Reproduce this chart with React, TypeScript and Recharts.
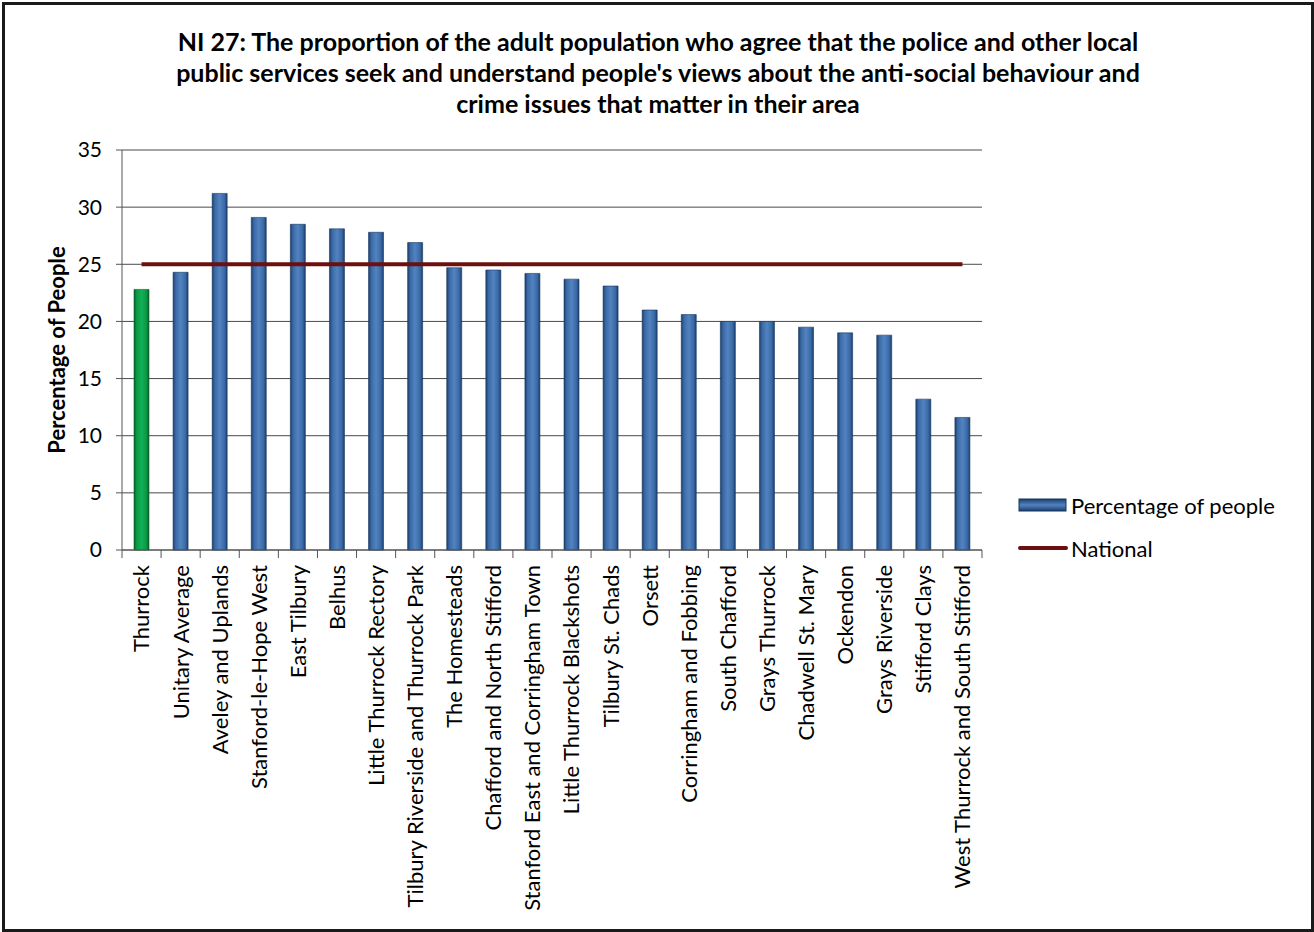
import React from "react";
import {
  ComposedChart,
  Bar,
  Line,
  Cell,
  XAxis,
  YAxis,
  CartesianGrid,
} from "recharts";

// categories and values
const areas = [
  "Thurrock",
  "Unitary Average",
  "Aveley and Uplands",
  "Stanford-le-Hope West",
  "East Tilbury",
  "Belhus",
  "Little Thurrock Rectory",
  "Tilbury Riverside and Thurrock Park",
  "The Homesteads",
  "Chafford and North Stifford",
  "Stanford East and Corringham Town",
  "Little Thurrock Blackshots",
  "Tilbury St. Chads",
  "Orsett",
  "Corringham and Fobbing",
  "South Chafford",
  "Grays Thurrock",
  "Chadwell St. Mary",
  "Ockendon",
  "Grays Riverside",
  "Stifford Clays",
  "West Thurrock and South Stifford",
];
const percentages = [
  22.8, 24.3, 31.2, 29.1, 28.5, 28.1, 27.8, 26.9, 24.7, 24.5, 24.2, 23.7, 23.1,
  21.0, 20.6, 20.0, 20.0, 19.5, 19.0, 18.8, 13.2, 11.6,
];
const national = [
  25, 25, 25, 25, 25, 25, 25, 25, 25, 25, 25, 25, 25, 25, 25, 25, 25, 25, 25,
  25, 25, 25,
];
const yTicks = [0, 5, 10, 15, 20, 25, 30, 35];

const data = areas.map((name, i) => ({
  name,
  pct: percentages[i],
  national: national[i],
}));

const FONT = "Lato, 'Open Sans', sans-serif";
const CHART_W = 1306;
const CHART_H = 924;
const MARGIN = { top: 145, right: 329, left: 0, bottom: 9 };
const Y_W = 117;
const PLOT_W = CHART_W - MARGIN.left - MARGIN.right - Y_W;
const BAND = PLOT_W / areas.length;

const CategoryTick = (props: any) => {
  const { x, y, payload, index } = props;
  return (
    <g transform={`translate(${x},${y})`}>
      <line x1={-BAND / 2} y1={0} x2={-BAND / 2} y2={8} stroke="#555" />
      {index === areas.length - 1 && (
        <line x1={BAND / 2} y1={0} x2={BAND / 2} y2={8} stroke="#555" />
      )}
      <text
        transform="rotate(-90)"
        x={-15}
        y={0}
        dy="0.36em"
        textAnchor="end"
        fontSize={22}
        fontFamily={FONT}
        fill="#000"
      >
        {payload.value}
      </text>
    </g>
  );
};

const YLabel = (props: any) => {
  const { x, y, height } = props.viewBox;
  const cx = x + 51;
  const cy = y + height / 2;
  return (
    <text
      x={cx}
      y={cy}
      transform={`rotate(-90, ${cx}, ${cy})`}
      textAnchor="middle"
      dominantBaseline="central"
      fontSize={22}
      fontWeight="bold"
      fontFamily={FONT}
      fill="#000"
    >
      Percentage of People
    </text>
  );
};

const LegendBox = () => (
  <div
    style={{
      position: "absolute",
      left: 1013,
      top: 487,
      fontFamily: FONT,
      fontSize: 22,
      color: "#000",
    }}
  >
    <div style={{ display: "flex", alignItems: "center", height: 26 }}>
      <svg width={50} height={14}>
        <rect x={1} y={1} width={47} height={12} fill="url(#blueBarLegend)" stroke="#17375E" />
        <defs>
          <linearGradient id="blueBarLegend" x1="0" y1="0" x2="0" y2="1">
            <stop offset="0%" stopColor="#1B3E6E" />
            <stop offset="50%" stopColor="#5283C0" />
            <stop offset="100%" stopColor="#1B3E6E" />
          </linearGradient>
        </defs>
      </svg>
      <span style={{ marginLeft: 3 }}>Percentage of people</span>
    </div>
    <div style={{ display: "flex", alignItems: "center", height: 26, marginTop: 17 }}>
      <svg width={50} height={14}>
        <line x1={2} y1={7} x2={48} y2={7} stroke="#6B0F0F" strokeWidth={4} strokeLinecap="round" />
      </svg>
      <span style={{ marginLeft: 3 }}>National</span>
    </div>
  </div>
);

export default function App() {
  return (
    <div
      style={{
        position: "absolute",
        left: 2,
        top: 2,
        width: CHART_W,
        height: CHART_H,
        border: "3px solid #1a1a1a",
        background: "#fff",
      }}
    >
      <div
        style={{
          position: "absolute",
          left: 0,
          top: 21,
          width: CHART_W,
          textAlign: "center",
          fontFamily: FONT,
          fontWeight: "bold",
          fontSize: 25,
          lineHeight: "31px",
          color: "#000",
        }}
      >
        NI 27: The proportion of the adult population who agree that the police and other local
        <br />
        public services seek and understand people's views about the anti-social behaviour and
        <br />
        crime issues that matter in their area
      </div>
      <ComposedChart width={CHART_W} height={CHART_H} data={data} margin={MARGIN}>
        <defs>
          <linearGradient id="blueBar" x1="0" y1="0" x2="1" y2="0">
            <stop offset="0%" stopColor="#1B3E6E" />
            <stop offset="18%" stopColor="#3A6AA6" />
            <stop offset="50%" stopColor="#5283C0" />
            <stop offset="82%" stopColor="#3A6AA6" />
            <stop offset="100%" stopColor="#1B3E6E" />
          </linearGradient>
          <linearGradient id="greenBar" x1="0" y1="0" x2="1" y2="0">
            <stop offset="0%" stopColor="#0B5E2A" />
            <stop offset="18%" stopColor="#0A9A45" />
            <stop offset="50%" stopColor="#12B155" />
            <stop offset="82%" stopColor="#0A9A45" />
            <stop offset="100%" stopColor="#0B5E2A" />
          </linearGradient>
        </defs>
        <CartesianGrid vertical={false} stroke="#4a4a4a" />
        <XAxis
          dataKey="name"
          interval={0}
          height={370}
          tickLine={false}
          tickSize={0}
          tickMargin={0}
          tick={<CategoryTick />}
          axisLine={{ stroke: "#555" }}
        />
        <YAxis
          width={Y_W}
          domain={[0, 35]}
          ticks={yTicks}
          tickSize={6}
          tickMargin={14}
          tick={{ fontSize: 21, fontFamily: FONT, fill: "#000" }}
          axisLine={{ stroke: "#555" }}
          tickLine={{ stroke: "#555" }}
          label={<YLabel />}
        />
        <Bar dataKey="pct" barSize={15} isAnimationActive={false} strokeWidth={0.6}>
          {data.map((_, i) => (
            <Cell
              key={`c-${i}`}
              fill={i === 0 ? "url(#greenBar)" : "url(#blueBar)"}
              stroke={i === 0 ? "#0B5E2A" : "#17375E"}
            />
          ))}
        </Bar>
        <Line
          dataKey="national"
          stroke="#6B0F0F"
          strokeWidth={4}
          dot={false}
          activeDot={false}
          isAnimationActive={false}
        />
      </ComposedChart>
      <LegendBox />
    </div>
  );
}
